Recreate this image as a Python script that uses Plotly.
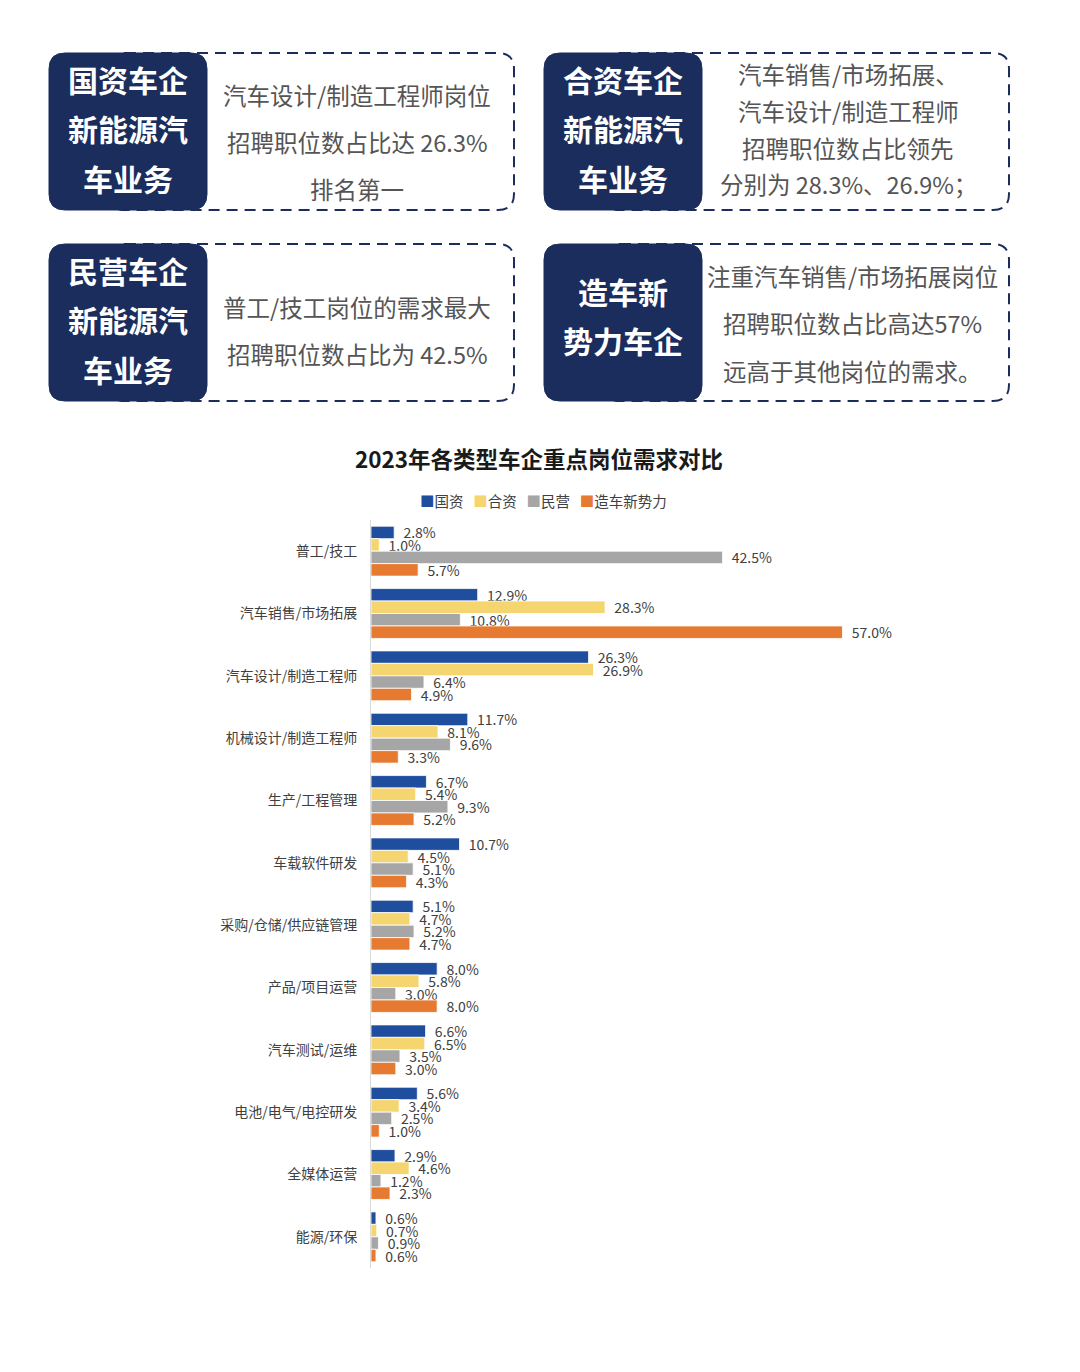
import plotly.graph_objects as go

# ---------------- data ----------------
categories = ["普工/技工", "汽车销售/市场拓展", "汽车设计/制造工程师", "机械设计/制造工程师",
              "生产/工程管理", "车载软件研发", "采购/仓储/供应链管理", "产品/项目运营",
              "汽车测试/运维", "电池/电气/电控研发", "全媒体运营", "能源/环保"]
state_owned = [2.8, 12.9, 26.3, 11.7, 6.7, 10.7, 5.1, 8.0, 6.6, 5.6, 2.9, 0.6]
joint_venture = [1.0, 28.3, 26.9, 8.1, 5.4, 4.5, 4.7, 5.8, 6.5, 3.4, 4.6, 0.7]
private_owned = [42.5, 10.8, 6.4, 9.6, 9.3, 5.1, 5.2, 3.0, 3.5, 2.5, 1.2, 0.9]
new_forces = [5.7, 57.0, 4.9, 3.3, 5.2, 4.3, 4.7, 8.0, 3.0, 1.0, 2.3, 0.6]
series_names = ["国资", "合资", "民营", "造车新势力"]
series_values = [state_owned, joint_venture, private_owned, new_forces]
series_colors = ["#1f4e9f", "#f5d56f", "#a6a6a6", "#e67a30"]

chart_title = "2023年各类型车企重点岗位需求对比"

box_titles = [["国资车企", "新能源汽", "车业务"],
              ["合资车企", "新能源汽", "车业务"],
              ["民营车企", "新能源汽", "车业务"],
              ["造车新", "势力车企"]]
box_texts = [["汽车设计/制造工程师岗位", "招聘职位数占比达 26.3%", "排名第一"],
             ["汽车销售/市场拓展、", "汽车设计/制造工程师", "招聘职位数占比领先", "分别为 28.3%、26.9%；"],
             ["普工/技工岗位的需求最大", "招聘职位数占比为 42.5%"],
             ["注重汽车销售/市场拓展岗位", "招聘职位数占比高达57%", "远高于其他岗位的需求。"]]

# ---------------- layout helpers ----------------
W, H = 1080, 1372
OFF = 8  # page body margin
FONT = "Noto Sans CJK SC"
NAVY = "#1b2d5c"


def px(x):
    return (x - OFF) / W


def py(y):
    return 1 - (y - OFF) / H


def rrect_path(x0, y0, x1, y1, r):
    pts = [f"M {px(x0 + r)},{py(y0)}",
           f"L {px(x1 - r)},{py(y0)}",
           f"Q {px(x1)},{py(y0)} {px(x1)},{py(y0 + r)}",
           f"L {px(x1)},{py(y1 - r)}",
           f"Q {px(x1)},{py(y1)} {px(x1 - r)},{py(y1)}",
           f"L {px(x0 + r)},{py(y1)}",
           f"Q {px(x0)},{py(y1)} {px(x0)},{py(y1 - r)}",
           f"L {px(x0)},{py(y0 + r)}",
           f"Q {px(x0)},{py(y0)} {px(x0 + r)},{py(y0)}",
           "Z"]
    return " ".join(pts)


fig = go.Figure()

for name, vals, col in zip(series_names, series_values, series_colors):
    fig.add_trace(go.Bar(
        y=categories, x=vals, name=name, orientation="h",
        marker=dict(color=col, line=dict(color="white", width=0.8)),
        texttemplate="\u00a0\u00a0%{x:.1f}%", textposition="outside",
        textfont=dict(family=FONT, size=14, color="#404040"),
        constraintext="none", cliponaxis=False, showlegend=False,
    ))

shapes = []
annotations = []

cols = [(49, 207, 514), (544, 702, 1009)]
rows = [(53, 210), (244, 401)]
text_centers = [(357, [95, 142, 189]), (848, [74, 111, 148, 184]),
                (357, [307, 354]), (852, [276, 323, 371])]
title_lines_y = [[79, 128, 178], [79, 128, 178], [270, 319, 369], [291, 340]]

k = 0
for (ry0, ry1) in rows:
    for (nx0, nx1, dx1) in cols:
        shapes.append(dict(type="path", xref="paper", yref="paper",
                           path=rrect_path(nx0 + 60, ry0, dx1, ry1, 16),
                           line=dict(color=NAVY, width=2, dash="11px,7px"),
                           fillcolor="rgba(0,0,0,0)", layer="above"))
        shapes.append(dict(type="path", xref="paper", yref="paper",
                           path=rrect_path(nx0, ry0, nx1, ry1, 16),
                           line=dict(color=NAVY, width=1), fillcolor=NAVY, layer="above"))
        cx = (nx0 + nx1) / 2
        for line, yy in zip(box_titles[k], title_lines_y[k]):
            annotations.append(dict(xref="paper", yref="paper", x=px(cx), y=py(yy),
                                    text=f"<b>{line}</b>", showarrow=False,
                                    xanchor="center", yanchor="middle",
                                    font=dict(family=FONT, size=30, color="white")))
        tcx, tys = text_centers[k]
        for line, yy in zip(box_texts[k], tys):
            annotations.append(dict(xref="paper", yref="paper", x=px(tcx), y=py(yy),
                                    text=line, showarrow=False,
                                    xanchor="center", yanchor="middle",
                                    font=dict(family=FONT, size=23.5, color="#555555")))
        k += 1

annotations.append(dict(xref="paper", yref="paper", x=px(539), y=py(458),
                        text=f"<b>{chart_title}</b>", showarrow=False,
                        xanchor="center", yanchor="middle",
                        font=dict(family=FONT, size=22.5, color="#1a1a1a")))

legend_html = "\u00a0\u00a0\u00a0".join(
    f"<span style='color:{c}'>■</span>{n}" for n, c in zip(series_names, series_colors))
annotations.append(dict(xref="paper", yref="paper", x=px(543), y=py(500),
                        text=legend_html, showarrow=False,
                        xanchor="center", yanchor="middle",
                        font=dict(family=FONT, size=14.5, color="#404040")))

fig.update_layout(
    width=W, height=H,
    margin=dict(l=0, r=0, t=0, b=0),
    paper_bgcolor="white", plot_bgcolor="white",
    barmode="group", bargap=0.2, bargroupgap=0.0,
    font=dict(family=FONT, color="#404040"),
    shapes=shapes, annotations=annotations,
    xaxis=dict(domain=[px(371), px(950)], range=[0, 70], visible=False, fixedrange=True),
    yaxis=dict(domain=[py(1268), py(520)], autorange="reversed",
               showline=True, linecolor="#d9d9d9", linewidth=1,
               ticks="", showgrid=False, automargin=False,
               ticklabelstandoff=10,
               tickfont=dict(family=FONT, size=14, color="#404040")),
)

fig.write_html("out.html")
